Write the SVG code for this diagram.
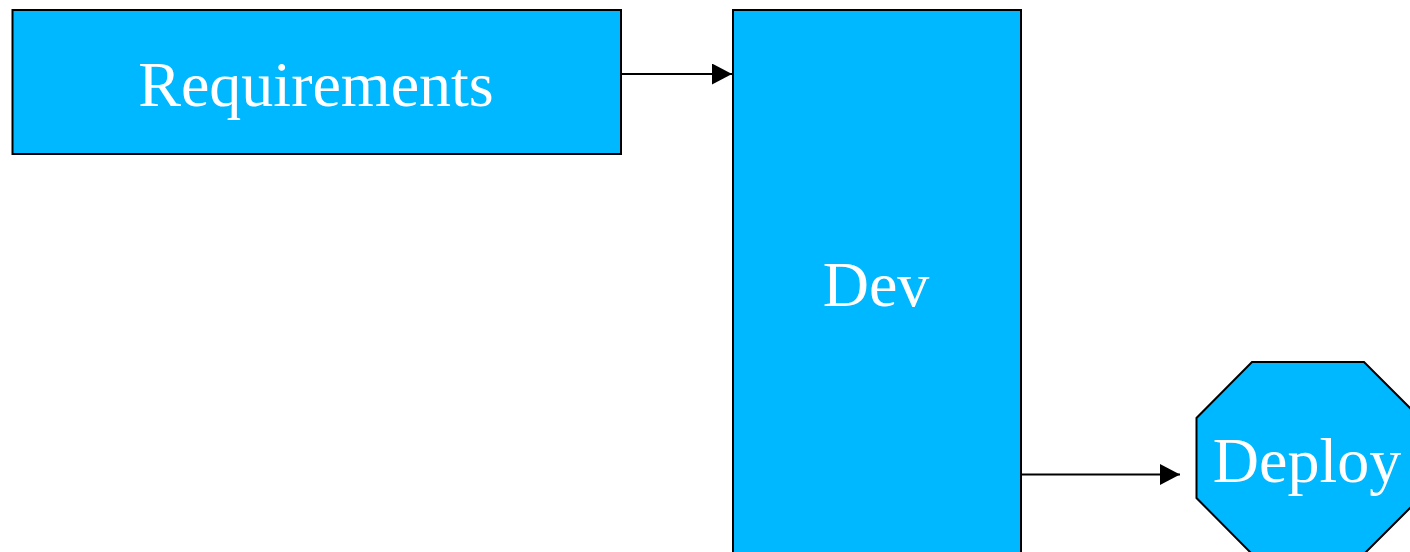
<svg xmlns="http://www.w3.org/2000/svg" width="1410" height="552" viewBox="0 0 1410 552">
  <style>
    .node { fill: #00B8FF; stroke: #000; stroke-width: 2; }
    .label { fill: #fff; font-family: "Liberation Serif", "Times New Roman", serif; font-size: 64px; text-anchor: middle; }
    .edge { stroke: #000; stroke-width: 2; fill: none; }
  </style>
  <defs>
    <marker id="arrow" markerWidth="20" markerHeight="21" refX="20" refY="10.5" orient="auto" markerUnits="userSpaceOnUse">
      <path d="M0,0 L20,10.5 L0,21 Z" fill="#000"/>
    </marker>
  </defs>
  <rect width="1410" height="552" fill="#fff"/>
  <g id="requirements">
    <rect class="node" x="12.5" y="10" width="608.5" height="144"/>
    <text class="label" x="316" y="106">Requirements</text>
  </g>
  <g id="dev">
    <rect class="node" x="733" y="10" width="288" height="560"/>
    <text class="label" x="876" y="306">Dev</text>
  </g>
  <g id="deploy">
    <polygon class="node" points="1252,362 1364,362 1420,418 1420,498 1364,554 1252,554 1196.5,498 1196.5,418"/>
    <text class="label" x="1307" y="482">Deploy</text>
  </g>
  <g id="connectors">
    <line class="edge" x1="621" y1="74" x2="732" y2="74" marker-end="url(#arrow)"/>
    <line class="edge" x1="1021" y1="474.5" x2="1180" y2="474.5" marker-end="url(#arrow)"/>
  </g>
</svg>
